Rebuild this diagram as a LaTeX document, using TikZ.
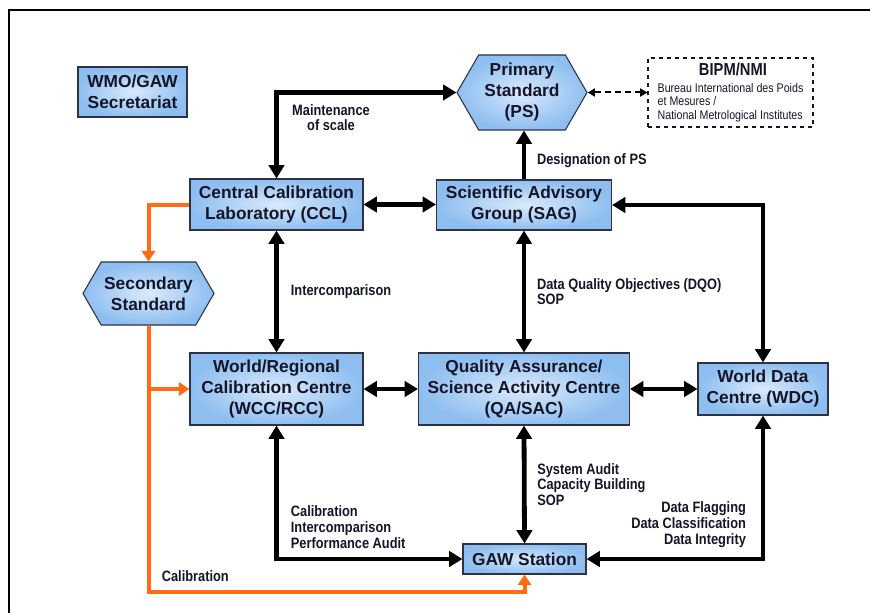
\documentclass[tikz,border=0pt]{standalone}
\usepackage{fontspec}
\setmainfont{Liberation Sans}
\newfontfamily\narrowfont[FakeStretch=0.85]{Liberation Sans}
\usetikzlibrary{arrows.meta,shapes.symbols}

\definecolor{boxout}{RGB}{142,190,240}
\definecolor{boxin}{RGB}{218,234,252}
\definecolor{boxline}{RGB}{45,50,70}
\definecolor{calorange}{RGB}{255,108,18}
\definecolor{ink}{RGB}{20,22,40}

\tikzstyle{block} = [draw=boxline, line width=0.8pt, inner color=boxin,
    outer color=boxout, rectangle, align=center, inner sep=0pt, text=ink,
    font=\fontsize{13}{15.75}\selectfont\bfseries]
\tikzstyle{hexa} = [block, signal, signal to=west and east,
    signal pointer angle=120]
\tikzstyle{note} = [draw=ink, dashed, line width=0.8pt, inner sep=0pt,
    align=left, text=ink, font=\narrowfont\fontsize{9.4}{10.2}\selectfont]
\tikzstyle{lab} = [inner sep=0pt, text=ink, align=left,
    font=\narrowfont\bfseries\fontsize{11.3}{11.8}\selectfont]
\tikzstyle{link} = [line width=3.6pt, draw=black]
\tikzstyle{cal} = [line width=3pt, draw=calorange,
    >={Triangle[length=8pt,width=10pt]}]

\begin{document}
\begin{tikzpicture}[x=0.75pt, y=-0.75pt, >={Triangle[length=10pt,width=11.5pt]}]
    \useasboundingbox (0,0) rectangle (870,613);
    \draw [line width=1.5pt] (9,613) -- (9,10) -- (870,10);

    % We start by placing the blocks
    \node [block, minimum width=81.75pt, minimum height=37.5pt] (wmo) at (132.5,92) {WMO/GAW\\Secretariat};
    \node [hexa, minimum width=97.5pt, minimum height=56.25pt] (ps) at (522,92.5) {Primary\\Standard\\(PS)};
    \node [note, minimum width=123.75pt, minimum height=51.75pt] (bipm) at (730.5,92.5)
        {\hspace*{31pt}{\fontsize{13}{14}\selectfont\bfseries BIPM/NMI}\\[2pt]
         Bureau International des Poids\\et Mesures /\\National Metrological Institutes};
    \node [block, minimum width=129.75pt, minimum height=38.25pt] (ccl) at (276.5,204.5) {Central Calibration\\Laboratory (CCL)};
    \node [block, minimum width=131.25pt, minimum height=37.5pt] (sag) at (524,205) {Scientific Advisory\\Group (SAG)};
    \node [hexa, minimum width=98.25pt, minimum height=47.25pt] (ss) at (148.5,293.5) {Secondary\\Standard};
    \node [block, minimum width=129.75pt, minimum height=54pt] (wcc) at (276.5,389) {World/Regional\\Calibration Centre\\(WCC/RCC)};
    \node [block, minimum width=158.25pt, minimum height=54pt] (qa) at (524,389) {Quality Assurance/\\Science Activity Centre\\(QA/SAC)};
    \node [block, minimum width=97.5pt, minimum height=39pt] (wdc) at (763,389) {World Data\\Centre (WDC)};
    \node [block, minimum width=92.25pt, minimum height=22.5pt] (gaw) at (524.5,559) {GAW Station};
    \coordinate (calbend) at (148.5,592);

    % black links
    \draw [link,<->] (ps.west) -| node [lab, pos=0.5, anchor=north west, xshift=10pt, yshift=-7pt, align=center]
        {Maintenance\\of scale} (ccl.north);
    \draw [link,->] (sag.north) -- node [lab, right=8pt, yshift=-4pt] {Designation of PS} (sag.north |- ps.south);
    \draw [link,<->] (ccl.east) -- (ccl.east -| sag.west);
    \draw [link,<->] (sag.east) -| (wdc.north);
    \draw [link,<->] (ccl.south) -- node [lab, right=9pt] {Intercomparison} (wcc.north);
    \draw [link,<->] (sag.south) -- node [lab, right=8pt] {Data Quality Objectives (DQO)\\SOP} (qa.north);
    \draw [link,<->] (wcc.east) -- (qa.west);
    \draw [link,<->] (qa.east) -- (wdc.west);
    \draw [link,<->] (wcc.south) |- node [lab, pos=0.38, right=9pt]
        {Calibration\\Intercomparison\\Performance Audit} (gaw.west);
    \draw [link,<->] (qa.south) -- node [lab, right=8pt] {System Audit\\Capacity Building\\SOP} (gaw.north);
    \draw [link,<->] (wdc.south) |- node [lab, pos=0.38, left=11pt, align=right]
        {Data Flagging\\Data Classification\\Data Integrity} (gaw.east);
    \draw [line width=1.5pt, dash pattern=on 4.5pt off 3pt, >={Triangle[length=5.5pt,width=6pt]}, <->] (ps.east) -- (bipm.west);

    % orange calibration chain
    \draw [cal,->] (ccl.west) -| (ss.north);
    \draw [cal,->] (ss.south) -- (calbend) node [lab, anchor=south west, xshift=8.5pt, yshift=6pt] {Calibration} -| (gaw.south);
    \draw [cal,->] (ss.south |- wcc.west) -- (wcc.west);
\end{tikzpicture}
\end{document}
